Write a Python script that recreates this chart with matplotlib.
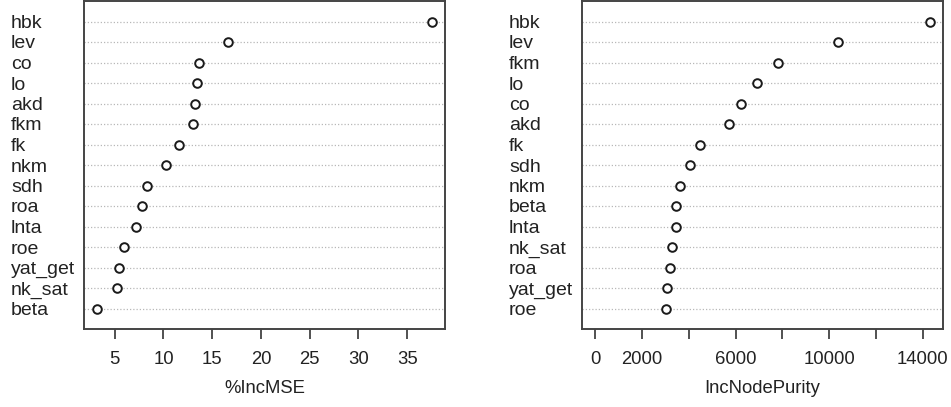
import numpy as np
import matplotlib
matplotlib.use("Agg")
from matplotlib import pyplot as plt

plt.rcParams['font.family'] = ['Liberation Sans', 'DejaVu Sans']

# %IncMSE panel, top to bottom
mse_vars = ['hbk', 'lev', 'co', 'lo', 'akd', 'fkm', 'fk', 'nkm', 'sdh', 'roa',
            'lnta', 'roe', 'yat_get', 'nk_sat', 'beta']
mse_vals = [37.5, 16.6, 13.6, 13.45, 13.2, 13.07, 11.6, 10.3, 8.35, 7.77,
            7.2, 5.92, 5.4, 5.2, 3.22]

# IncNodePurity panel, top to bottom
pur_vars = ['hbk', 'lev', 'fkm', 'lo', 'co', 'akd', 'fk', 'sdh', 'nkm', 'beta',
            'lnta', 'nk_sat', 'roa', 'yat_get', 'roe']
pur_vals = [14300, 10370, 7800, 6920, 6240, 5720, 4470, 4040, 3600, 3460,
            3470, 3290, 3190, 3050, 3040]

mse_ticks = [5, 10, 15, 20, 25, 30, 35]
pur_ticks = [0, 2000, 4000, 6000, 8000, 10000, 12000, 14000]
pur_ticklabels = ['0', '2000', '', '6000', '', '10000', '', '14000']

W, H = 951, 407
fig = plt.figure(figsize=(W / 100, H / 100), dpi=100)

txt = '#222222'


def dot_panel(rect, names, vals, ticks, ticklabels, xlab, xmin):
    ax = fig.add_axes(rect)
    n = len(vals)
    ys = np.arange(n, 0, -1)
    xmax = max(vals)
    pad = (xmax - xmin) * 0.04
    ax.set_xlim(xmin - pad, xmax + pad)
    ax.set_ylim(0, n + 1)
    for y in ys:
        ax.axhline(y, color='#b8b8b8', lw=0.9, ls=(0, (1, 1.6)), zorder=1)
    ax.plot(vals, ys, 'o', ms=6.2, mfc='white', mec='#1a1a1a', mew=1.4,
            ls='none', zorder=3)
    ax.set_yticks(ys)
    ax.set_yticklabels(names)
    ax.tick_params(axis='y', length=0, pad=52.5, labelsize=14, labelcolor=txt)
    for lab in ax.get_yticklabels():
        lab.set_horizontalalignment('left')
    ax.set_xticks(ticks)
    ax.set_xticklabels(ticklabels)
    ax.tick_params(axis='x', length=7.5, width=1.2, color='#333333', pad=8.5,
                   labelsize=13.3, labelcolor=txt)
    ax.set_xlabel(xlab, fontsize=13.3, color=txt, labelpad=8.5)
    for s in ax.spines.values():
        s.set_color('#444444')
        s.set_linewidth(1.4)
    return ax


dot_panel([84 / W, 78 / H, 361 / W, 328 / H], mse_vars, mse_vals,
          mse_ticks, [str(t) for t in mse_ticks], '%IncMSE', min(mse_vals))
dot_panel([582 / W, 78 / H, 361 / W, 328 / H], pur_vars, pur_vals,
          pur_ticks, pur_ticklabels, 'IncNodePurity', 0)

fig.savefig('out.png', dpi=100)
